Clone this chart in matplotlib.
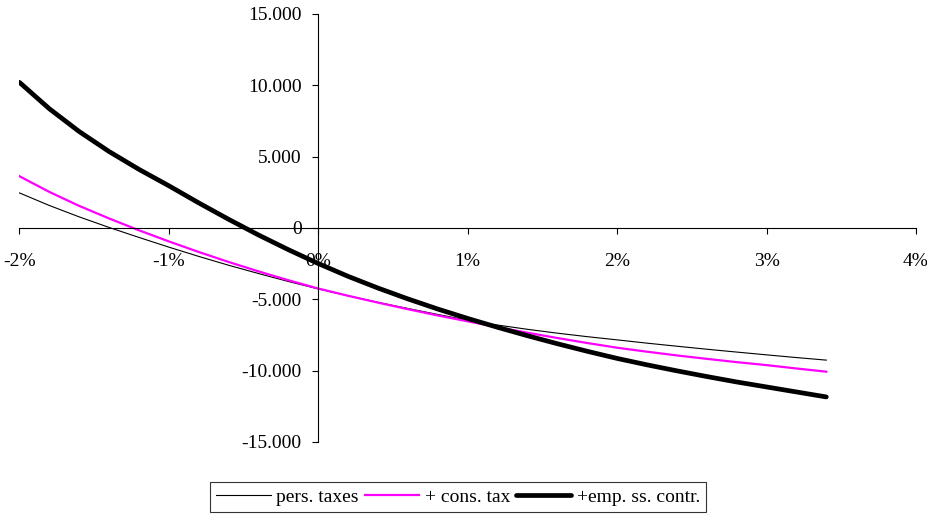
import matplotlib
matplotlib.use('Agg')
import matplotlib.pyplot as plt
from matplotlib.ticker import FuncFormatter, MultipleLocator

plt.rcParams['font.family'] = ['Liberation Serif', 'DejaVu Serif']
plt.rcParams['font.size'] = 14

# growth rate (%)
growth = [-2.0, -1.8, -1.6, -1.4, -1.2, -1.0, -0.8, -0.6, -0.4, -0.2,
          0.0, 0.2, 0.4, 0.6, 0.8, 1.0, 1.2, 1.4, 1.6, 1.8,
          2.0, 2.2, 2.4, 2.6, 2.8, 3.0, 3.2, 3.4]

# pers. taxes
pers_taxes = [2450, 1570, 770, 30, -670, -1350, -2000, -2620, -3200, -3760,
              -4280, -4760, -5220, -5650, -6070, -6470, -6810, -7110, -7380, -7625,
              -7850, -8080, -8295, -8505, -8705, -8900, -9090, -9270]

# + cons. tax
cons_tax = [3620, 2520, 1540, 660, -170, -950, -1690, -2390, -3050, -3670,
            -4250, -4760, -5240, -5700, -6140, -6550, -6960, -7350, -7720, -8070,
            -8400, -8680, -8940, -9180, -9410, -9620, -9855, -10080]

# +emp. ss. contr.
emp_ss = [10200, 8350, 6750, 5350, 4100, 2950, 1750, 600, -500, -1530,
          -2500, -3400, -4220, -4980, -5690, -6350, -6970, -7560, -8120, -8650,
          -9150, -9600, -10020, -10420, -10800, -11150, -11500, -11850]

labels = ['pers. taxes', '+ cons. tax', '+emp. ss. contr.']

fig = plt.figure(figsize=(9.28, 5.15), dpi=100)
ax = fig.add_axes([0.021, 0.142, 0.966, 0.831])

ax.plot(growth, pers_taxes, color='black', lw=0.8, label=labels[0])
ax.plot(growth, cons_tax, color='#FF00FF', lw=1.6, label=labels[1])
ax.plot(growth, emp_ss, color='black', lw=3.4, solid_capstyle='round',
        label=labels[2])

ax.set_xlim(-2, 4)
ax.set_ylim(-15000, 15000)
ax.xaxis.set_major_locator(MultipleLocator(1))
ax.yaxis.set_major_locator(MultipleLocator(5000))
ax.xaxis.set_major_formatter(FuncFormatter(lambda v, p: f"{v:.0f}%"))
ax.yaxis.set_major_formatter(
    FuncFormatter(lambda v, p: f"{v:,.0f}".replace(',', '.')))

# axes cross at the origin
ax.spines['left'].set_position(('data', 0))
ax.spines['bottom'].set_position(('data', 0))
ax.spines['top'].set_visible(False)
ax.spines['right'].set_visible(False)
for s in ['left', 'bottom']:
    ax.spines[s].set_linewidth(0.8)
ax.tick_params(axis='both', direction='out', length=4, width=0.8)
ax.tick_params(axis='x', pad=14)
ax.tick_params(axis='y', pad=8)

leg = fig.legend(loc='center', bbox_to_anchor=(458 / 928, 1 - 497 / 515),
                 ncol=3, frameon=True, fancybox=False, shadow=False,
                 handlelength=2.8, handletextpad=0.3, columnspacing=0.3,
                 borderpad=0.3, fontsize=14)
leg.get_frame().set_edgecolor('black')
leg.get_frame().set_linewidth(0.8)

fig.savefig('out.png', dpi=100)
